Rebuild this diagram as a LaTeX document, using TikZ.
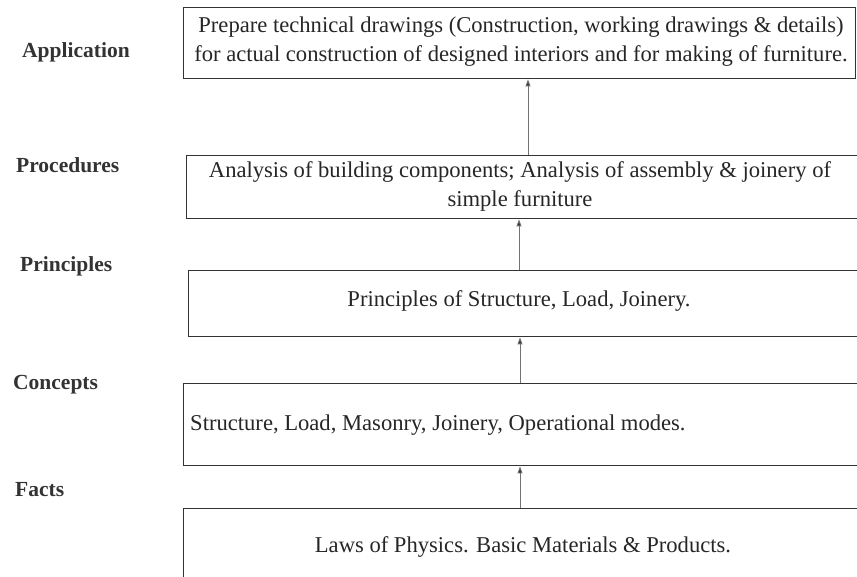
\documentclass[tikz,border=0pt]{standalone}
\usepackage{fontspec}
\setmainfont{Liberation Serif}
\usetikzlibrary{arrows.meta}
\begin{document}
\begin{tikzpicture}[x=1pt,y=-1pt,
  box/.style={draw=black!80, line width=1.4pt, inner sep=0pt, anchor=north west},
  body/.style={font=\fontsize{22.6}{29}\selectfont, text=black!85, inner sep=0pt, align=center},
  lab/.style={font=\fontsize{21.5}{25}\selectfont\bfseries, text=black!80, inner sep=0pt, anchor=west},
  arr/.style={draw=black!55, line width=0.9pt, -{Triangle[length=7pt,width=5pt,fill=black!80]}}]
\useasboundingbox (0,0) rectangle (857,577);
\clip (0,0) rectangle (857,577);
% boxes
\node[box, minimum width=672pt, minimum height=71pt] (b1) at (183,7) {};
\node[box, minimum width=690pt, minimum height=63pt] (b2) at (186,155) {};
\node[box, minimum width=690pt, minimum height=66pt] (b3) at (188,270) {};
\node[box, minimum width=690pt, minimum height=82pt] (b4) at (183,383) {};
\node[box, minimum width=690pt, minimum height=90pt] (b5) at (183,508) {};
% texts
\node[body] (t1) at (521,42) {Prepare technical drawings (Construction, working drawings \& details)\\for actual construction of designed interiors and for making of furniture.};
\node[body] (t2) at (520,186) {Analysis of building components; Analysis of assembly \& joinery of\\simple furniture};
\node[body] (t3) at (519,301) {Principles of Structure, Load, Joinery.};
\node[body, anchor=west] (t4) at (190,425) {Structure, Load, Masonry, Joinery, Operational modes.};
\node[body] (t5) at (523,547) {Laws of Physics. Basic Materials \& Products.};
% labels
\node[lab] (l1) at (22,52) {Application};
\node[lab] (l2) at (16,165) {Procedures};
\node[lab] (l3) at (20,266) {Principles};
\node[lab] (l4) at (13,385) {Concepts};
\node[lab] (l5) at (15,490) {Facts};
% connectors
\draw[arr] (b2.north -| 528,0) -- (b1.south -| 528,0);
\draw[arr] (b3.north -| 519,0) -- (b2.south -| 519,0);
\draw[arr] (b4.north -| 520,0) -- (b3.south -| 520,0);
\draw[arr] (b5.north -| 520,0) -- (b4.south -| 520,0);
\end{tikzpicture}
\end{document}
